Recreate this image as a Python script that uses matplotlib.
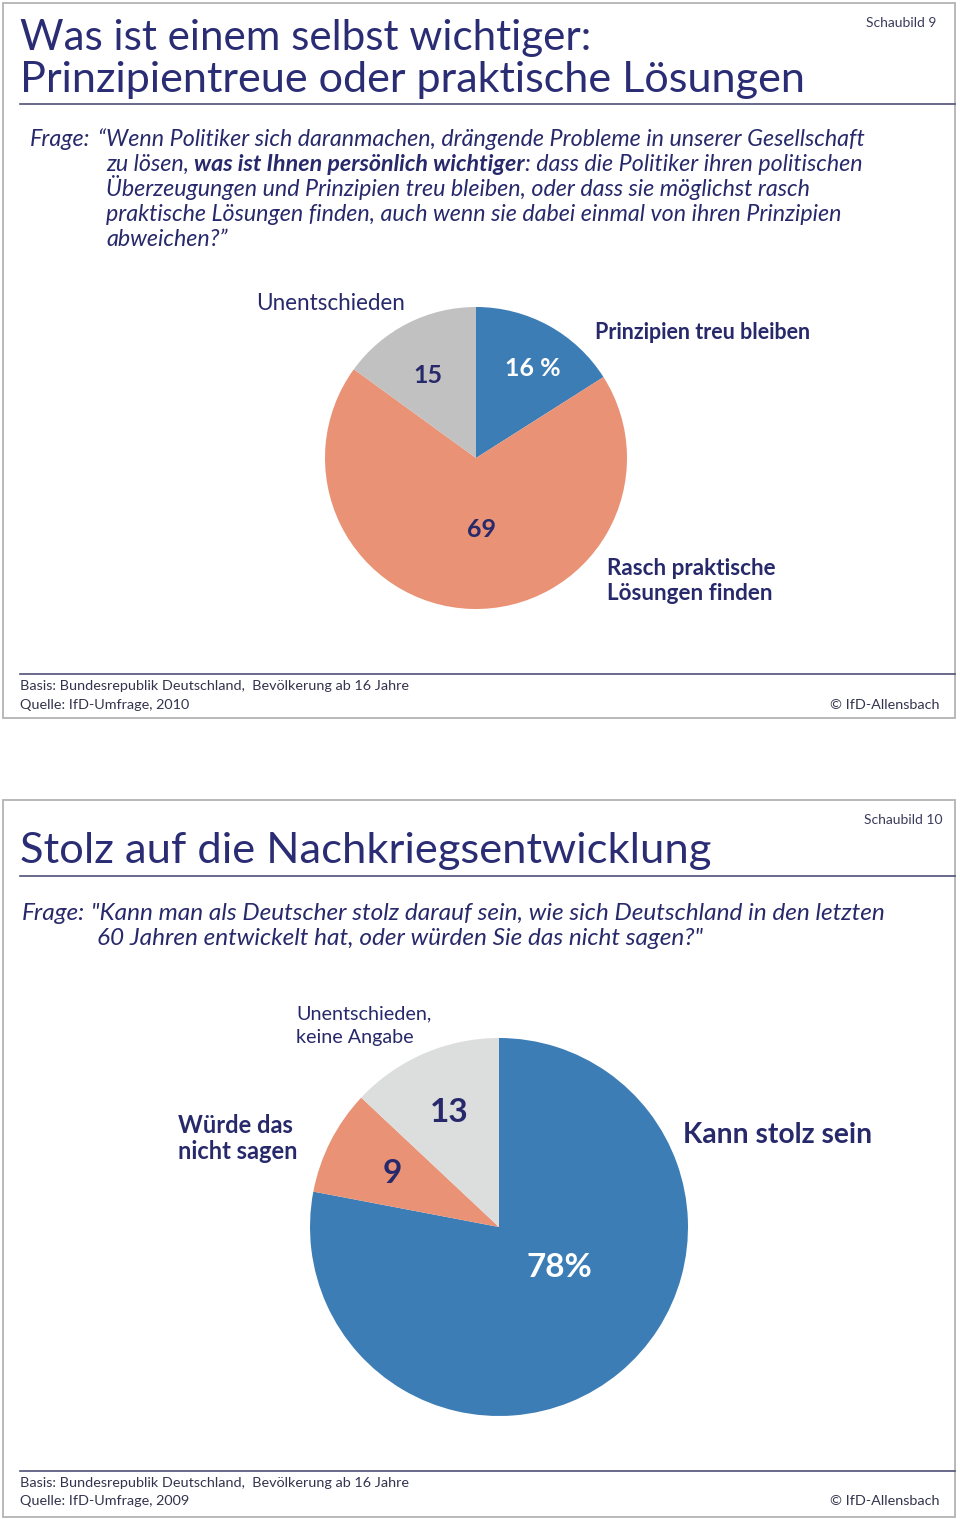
import matplotlib
matplotlib.use('Agg')
import matplotlib.pyplot as plt
from matplotlib.patches import Rectangle

# ---------------- data ----------------
chart1_labels = ["Prinzipien treu bleiben", "Rasch praktische\nLösungen finden", "Unentschieden"]
chart1_values = [16, 69, 15]
chart2_labels = ["Kann stolz sein", "Würde das\nnicht sagen", "Unentschieden,\nkeine Angabe"]
chart2_values = [78, 9, 13]

BLUE = '#3d7db6'
SALMON = '#e99275'
GRAY1 = '#c1c1c1'
GRAY2 = '#dcdddd'
NAVY = '#27296b'
TITLE = '#2b2d74'
FONT = ['Lato', 'DejaVu Sans']

W, H = 960, 1519
fig = plt.figure(figsize=(W / 100, H / 100), dpi=100)
ov = fig.add_axes([0, 0, 1, 1])
ov.set_xlim(0, W)
ov.set_ylim(H, 0)
ov.axis('off')
ov.set_zorder(10)
renderer = fig.canvas.get_renderer()


def put(x, y, s, width=None, size=12, ha='left', va='baseline', color=NAVY, **kw):
    t = ov.text(x, y, s, fontsize=size, ha=ha, va=va, family=FONT, color=color, zorder=5, **kw)
    if width:
        bb = t.get_window_extent(renderer)
        t.set_fontsize(size * width / bb.width)
    return t


def runs(x, y, parts, size, **kw):
    for s, extra in parts:
        t = ov.text(x, y, s, fontsize=size, ha='left', va='baseline', family=FONT,
                    color=NAVY, zorder=5, **kw, **extra)
        bb = t.get_window_extent(renderer)
        x += bb.width


def pie_at(cx, cy, r, vals, cols):
    ax = fig.add_axes([(cx - r) / W, 1 - (cy + r) / H, 2 * r / W, 2 * r / H])
    ax.set_zorder(1)
    ax.pie(vals, colors=cols, startangle=90, counterclock=False, radius=1,
           wedgeprops=dict(linewidth=0))
    ax.set_xlim(-1, 1)
    ax.set_ylim(-1, 1)
    ax.set_aspect('equal')
    ax.axis('off')
    return ax


# ---------------- frames ----------------
for (y0, y1) in [(3, 718), (800, 1517)]:
    ov.add_patch(Rectangle((3, y0), 952, y1 - y0, fill=False, ec='#b3b3b3', lw=1.3))
for yl in [104, 674, 876, 1471]:
    ov.plot([20, 955], [yl, yl], color='#4f5078', lw=1.2)

# ---------------- panel 1 ----------------
put(936, 27, "Schaubild 9", size=10, ha='right', color='#3a3a5a')
put(20, 50, "Was ist einem selbst wichtiger:", width=572, size=30, color=TITLE)
put(20, 92, "Prinzipientreue oder praktische Lösungen", width=786, size=30, color=TITLE)

q = put(30, 146, "Frage:", size=14, style='italic')
q1 = put(98, 146, "\u201cWenn Politiker sich daranmachen, drängende Probleme in unserer Gesellschaft",
         width=769, size=14, style='italic')
qs = q1.get_fontsize()
q.set_fontsize(qs)
runs(106, 171, [("zu lösen, ", dict(style='italic')),
                ("was ist Ihnen persönlich wichtiger", dict(style='italic', weight='bold')),
                (": dass die Politiker ihren politischen", dict(style='italic'))], qs)
put(106, 196, "Überzeugungen und Prinzipien treu bleiben, oder dass sie möglichst rasch", size=qs,
    style='italic')
put(106, 221, "praktische Lösungen finden, auch wenn sie dabei einmal von ihren Prinzipien", size=qs,
    style='italic')
put(106, 246, "abweichen?\u201d", size=qs, style='italic')

pie_at(476, 458, 151, chart1_values, [BLUE, SALMON, GRAY1])

put(256, 310, chart1_labels[2], width=150, size=16)
put(595, 339, chart1_labels[0], width=218, size=16, weight='bold')
l1, l2 = chart1_labels[1].split("\n")
t = put(607, 575, l1, width=170, size=16, weight='bold')
put(607, 600, l2, size=t.get_fontsize(), weight='bold')

put(428, 383, f"{chart1_values[2]}", size=18, ha='center', weight='bold')
put(533, 376, f"{chart1_values[0]} %", size=18, ha='center', weight='bold', color='white')
put(481, 537, f"{chart1_values[1]}", size=18, ha='center', weight='bold')

b = put(20, 690, "Basis: Bundesrepublik Deutschland,  Bevölkerung ab 16 Jahre", width=389, size=10,
        color='#33334d')
fs = b.get_fontsize()
put(20, 709, "Quelle: IfD-Umfrage, 2010", size=fs, color='#33334d')
put(939, 709, "© IfD-Allensbach", size=fs, ha='right', color='#33334d')

# ---------------- panel 2 ----------------
put(943, 824, "Schaubild 10", size=10, ha='right', color='#3a3a5a')
put(20, 863, "Stolz auf die Nachkriegsentwicklung", width=689, size=30, color=TITLE)

q = put(22, 920, "Frage:", size=15, style='italic')
q1 = put(91, 920, "\"Kann man als Deutscher stolz darauf sein, wie sich Deutschland in den letzten",
         width=797, size=15, style='italic')
qs2 = q1.get_fontsize()
q.set_fontsize(qs2)
put(97, 945, "60 Jahren entwickelt hat, oder würden Sie das nicht sagen?\"", size=qs2, style='italic')

pie_at(499, 1227, 189, chart2_values, [BLUE, SALMON, GRAY2])

u1, u2 = chart2_labels[2].split("\n")
t = put(296, 1019, u1, width=136, size=16)
put(296, 1043, u2, size=t.get_fontsize())
w1, w2 = chart2_labels[1].split("\n")
t = put(178, 1133, w1, width=115, size=18, weight='bold')
put(178, 1159, w2, size=t.get_fontsize(), weight='bold')
put(683, 1143, chart2_labels[0], width=189, size=22, weight='bold')

put(449, 1122, f"{chart2_values[2]}", size=24, ha='center', weight='bold')
put(392, 1183, f"{chart2_values[1]}", size=24, ha='center', weight='bold')
put(559, 1277, f"{chart2_values[0]}%", size=24, ha='center', weight='bold', color='white')

put(20, 1487, "Basis: Bundesrepublik Deutschland,  Bevölkerung ab 16 Jahre", size=fs, color='#33334d')
put(20, 1505, "Quelle: IfD-Umfrage, 2009", size=fs, color='#33334d')
put(939, 1505, "© IfD-Allensbach", size=fs, ha='right', color='#33334d')

fig.savefig('out.png', dpi=100)
